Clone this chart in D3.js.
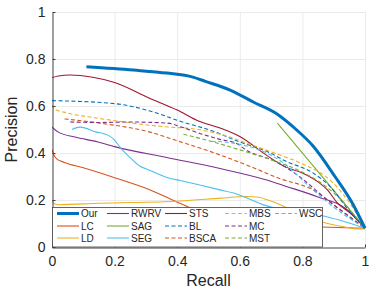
<!DOCTYPE html>
<html>
<head>
<meta charset="utf-8">
<script src="https://cdn.jsdelivr.net/npm/d3@7"></script>
<style>
  body { margin: 0; background: #fff; }
  svg { font-family: "Liberation Sans", Arial, sans-serif; }
</style>
</head>
<body>
<div id="container"></div>
<script>
let w = 374;
let h = 293;
let xLeft = 52;
let xRight = 365;
let yTop = 12;
let yBottom = 247;

// PR curves, [recall, precision]
let our = [[0.11,0.767],[0.26,0.753],[0.367,0.74],[0.45,0.723],[0.49,0.705],[0.569,0.668],[0.643,0.617],[0.72,0.565],[0.78,0.5],[0.834,0.43],[0.904,0.3],[0.958,0.19],[1,0.08]];
let lc = [[0,0.415],[0.005,0.395],[0.015,0.375],[0.04,0.36],[0.1,0.337],[0.2,0.295],[0.31,0.245],[0.41,0.185],[0.5,0.135],[0.6,0.105],[0.75,0.09],[0.86,0.085],[1,0.08]];
let ld = [[0,0.2],[0.005,0.186],[0.02,0.18],[0.15,0.186],[0.41,0.196],[0.54,0.208],[0.62,0.215],[0.66,0.212],[0.69,0.2],[0.72,0.185],[0.8,0.135],[0.863,0.106],[0.936,0.085],[0.975,0.077],[1,0.077]];
let rwrv = [[0,0.51],[0.019,0.49],[0.073,0.468],[0.147,0.447],[0.2,0.427],[0.37,0.38],[0.537,0.334],[0.686,0.285],[0.744,0.26],[0.85,0.213],[0.936,0.166],[1,0.08]];
let sag = [[0.72,0.527],[0.86,0.305],[1,0.08]];
let seg = [[0.064,0.5],[0.09,0.51],[0.14,0.49],[0.18,0.475],[0.2,0.455],[0.217,0.425],[0.25,0.38],[0.28,0.345],[0.31,0.328],[0.37,0.295],[0.41,0.283],[0.537,0.243],[0.58,0.23],[0.686,0.175],[0.78,0.15],[0.863,0.133],[1,0.08]];
let sts = [[0,0.72],[0.02,0.728],[0.058,0.732],[0.13,0.722],[0.2,0.7],[0.31,0.634],[0.4,0.583],[0.47,0.535],[0.537,0.506],[0.6,0.47],[0.686,0.39],[0.744,0.342],[0.8,0.315],[0.85,0.277],[0.88,0.243],[0.91,0.19],[0.96,0.136],[1,0.08]];
let bl = [[0,0.623],[0.2,0.61],[0.31,0.58],[0.41,0.535],[0.527,0.487],[0.59,0.452],[0.697,0.4],[0.744,0.367],[0.835,0.314],[0.89,0.255],[0.94,0.17],[1,0.08]];
let bsca = [[0.04,0.545],[0.153,0.527],[0.31,0.49],[0.4,0.452],[0.515,0.402],[0.62,0.35],[0.73,0.29],[0.834,0.243],[0.9,0.18],[1,0.08]];
let mbs = [[0,0.605],[0.005,0.59],[0.05,0.57],[0.137,0.55],[0.23,0.532],[0.377,0.51],[0.44,0.505],[0.537,0.48],[0.62,0.443],[0.73,0.39],[0.79,0.36],[0.9,0.27],[0.96,0.17],[1,0.08]];
let mc = [[0.058,0.532],[0.15,0.53],[0.25,0.532],[0.37,0.527],[0.41,0.512],[0.48,0.48],[0.537,0.458],[0.59,0.44],[0.62,0.413],[0.72,0.36],[0.79,0.3],[0.88,0.2],[1,0.08]];
let mst = [[0.42,0.48],[0.515,0.447],[0.62,0.405],[0.72,0.362],[0.79,0.325],[0.9,0.23],[1,0.08]];
let wsc = [[0.51,0.45],[0.58,0.442],[0.61,0.434],[0.686,0.4],[0.74,0.357],[0.824,0.255],[0.9,0.17],[1,0.08]];

let names = ["Our","LC","LD","RWRV","SAG","SEG","STS","BL","BSCA","MBS","MC","MST","WSC"];
let curves = [our, lc, ld, rwrv, sag, seg, sts, bl, bsca, mbs, mc, mst, wsc];
let colors = ["#0072BD","#D95319","#EDB120","#7E2F8E","#77AC30","#4DBEEE","#A2142F","#0072BD","#D95319","#EDB120","#7E2F8E","#77AC30","#4DBEEE"];
let dashed = [false,false,false,false,false,false,false,true,true,true,true,true,true];
let ticks = [0, 0.2, 0.4, 0.6, 0.8, 1];

let viz = d3.select("#container")
  .append("svg")
    .attr("width", w)
    .attr("height", h)
;

let xScale = d3.scaleLinear().domain([0, 1]).range([xLeft, xRight]);
let yScale = d3.scaleLinear().domain([0, 1]).range([yBottom, yTop]);

// grid
let grid = viz.append("g").attr("class", "grid");
grid.selectAll(".gx").data(ticks.slice(1)).enter().append("line")
    .attr("x1", d => xScale(d) + 0.5).attr("x2", d => xScale(d) + 0.5)
    .attr("y1", yTop).attr("y2", yBottom)
    .attr("stroke", "#ebebeb").attr("stroke-width", 1);
grid.selectAll(".gy").data(ticks.slice(1)).enter().append("line")
    .attr("y1", d => yScale(d) + 0.5).attr("y2", d => yScale(d) + 0.5)
    .attr("x1", xLeft).attr("x2", xRight)
    .attr("stroke", "#ebebeb").attr("stroke-width", 1);

// curves
viz.append("clipPath").attr("id", "clip")
  .append("rect").attr("x", xLeft).attr("y", yTop - 2).attr("width", xRight - xLeft + 2).attr("height", yBottom - yTop + 2);

let line = d3.line()
  .x(d => xScale(d[0]))
  .y(d => yScale(d[1]))
  .curve(d3.curveMonotoneX);

let order = d3.range(1, curves.length).concat([0]);
let vizGroup = viz.append("g").attr("clip-path", "url(#clip)");
vizGroup.selectAll("path").data(order).enter().append("path")
    .attr("d", i => line(curves[i]))
    .attr("fill", "none")
    .attr("stroke", i => colors[i])
    .attr("stroke-width", i => i == 0 ? 3 : 1.1)
    .attr("stroke-dasharray", i => dashed[i] ? "4,2.5" : null);

// axes
let xAxis = d3.axisBottom(xScale).tickValues(ticks).tickFormat(d3.format("")).tickSizeInner(-3).tickSizeOuter(0).tickPadding(9);
let xAxisGroup = viz.append("g").attr("class", "xaxis")
  .attr("transform", "translate(0, " + (yBottom + 0.5) + ")")
  .call(xAxis);

let yAxis = d3.axisLeft(yScale).tickValues(ticks).tickFormat(d3.format("")).tickSizeInner(-3).tickSizeOuter(0).tickPadding(7);
let yAxisGroup = viz.append("g").attr("class", "yaxis")
  .attr("transform", "translate(" + (xLeft + 0.5) + ", 0)")
  .call(yAxis);

viz.selectAll(".xaxis, .yaxis").selectAll("path, line").attr("stroke", "#404040");
viz.selectAll(".xaxis, .yaxis").selectAll("text")
    .attr("font-size", 14).attr("fill", "#262626")
    .attr("font-family", "Liberation Sans, Arial, sans-serif");

viz.append("text").text("Recall")
    .attr("x", (xLeft + xRight) / 2).attr("y", 286)
    .attr("text-anchor", "middle").attr("font-size", 16).attr("fill", "#262626");
viz.append("text").text("Precision")
    .attr("transform", "translate(16.5, " + ((yTop + yBottom) / 2) + ") rotate(-90)")
    .attr("text-anchor", "middle").attr("font-size", 16).attr("fill", "#262626");

// legend, 3 rows, filled column by column
let colX = [57, 107, 165, 225, 275];
let rowY = [213.5, 226, 238];
let legend = viz.append("g").attr("class", "legend");
legend.append("rect")
    .attr("x", xLeft + 0.5).attr("y", 207.5).attr("width", 270).attr("height", yBottom - 207.5)
    .attr("fill", "#fff").attr("stroke", "#404040").attr("stroke-width", 0.8);

let items = legend.selectAll(".item").data(names).enter().append("g")
    .attr("transform", (d, i) => "translate(" + colX[Math.floor(i / 3)] + ", " + rowY[i % 3] + ")");
items.append("line")
    .attr("x1", 0).attr("x2", 22).attr("y1", 0).attr("y2", 0)
    .attr("stroke", (d, i) => colors[i])
    .attr("stroke-width", (d, i) => i == 0 ? 3 : 1.1)
    .attr("stroke-dasharray", (d, i) => dashed[i] ? "4,2.5" : null);
items.append("text").text(d => d)
    .attr("x", 24).attr("y", 3.6)
    .attr("font-size", 10).attr("fill", "#262626");
</script>
</body>
</html>
